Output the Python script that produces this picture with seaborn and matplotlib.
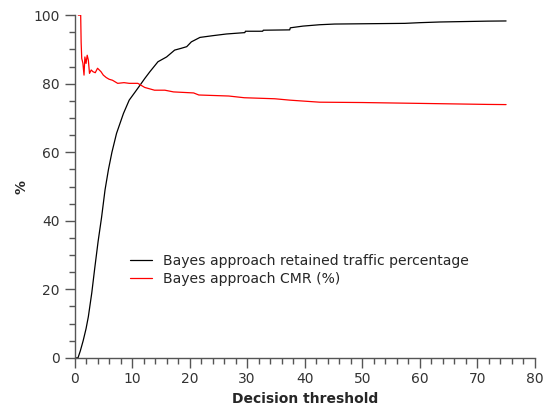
import pandas as pd
import matplotlib
matplotlib.use("Agg")
import matplotlib.pyplot as plt
import seaborn as sns
from matplotlib.ticker import MultipleLocator

# Retained traffic curve (black)
retained_x = [0, 0.6, 1.0, 1.5, 2.0, 2.4, 3.0, 3.5, 4.1, 4.7, 5.3, 5.9, 6.5, 7.3, 8.5,
              9.5, 10.5, 11.4, 12.2, 13.1, 14.5, 16.0, 17.4, 18.5, 19.5, 20.3, 21.8,
              24.0, 26.4, 29.6, 29.7, 32.7, 32.8, 37.4, 37.5, 39.7, 42.6, 45.2, 57.4,
              60.0, 63.5, 71.8, 75.0]
retained_y = [0, 0, 2, 5, 8.5, 12, 19, 26, 34, 41, 49, 55, 60, 65.5, 71.3,
              75.2, 77.5, 79.6, 81.5, 83.5, 86.4, 87.8, 89.8, 90.3, 90.8, 92.2, 93.5,
              94.0, 94.5, 94.9, 95.3, 95.3, 95.6, 95.7, 96.3, 96.8, 97.2, 97.4, 97.6,
              97.8, 98.0, 98.25, 98.3]

# CMR curve (red)
cmr_x = [0.66, 1.07, 1.15, 1.25, 1.45, 1.65, 1.8, 2.0, 2.2, 2.4, 2.6, 2.9, 3.2, 3.6,
         4.0, 4.6, 5.0, 5.5, 6.0, 6.6, 7.5, 8.6, 9.5, 11.0, 12.2, 13.9, 15.7, 17.2,
         20.7, 21.6, 26.8, 29.5, 34.8, 37.4, 39.1, 42.6, 50.0, 60.0, 71.8, 75.0]
cmr_y = [100, 100, 92, 87.4, 86, 82.5, 87.8, 85.9, 88.3, 86.9, 83, 84, 83.5, 83.2,
         84.5, 83.5, 82.5, 81.8, 81.3, 81.0, 80.1, 80.3, 80.1, 80.1, 78.9, 78.1, 78.1, 77.6,
         77.3, 76.7, 76.4, 75.9, 75.6, 75.2, 75.0, 74.6, 74.5, 74.25, 73.95, 73.9]

retained = pd.DataFrame({"x": retained_x, "y": retained_y})
cmr = pd.DataFrame({"x": cmr_x, "y": cmr_y})

sns.set_style("ticks")
plt.rcParams["font.family"] = ["DejaVu Sans"]

fig = plt.figure(figsize=(5.48, 4.09), dpi=100)
ax = fig.add_axes([0.136, 0.125, 0.840, 0.838])

sns.lineplot(data=retained, x="x", y="y", color="black", lw=0.9, ax=ax,
             label="Bayes approach retained traffic percentage", sort=False)
sns.lineplot(data=cmr, x="x", y="y", color="red", lw=0.9, ax=ax,
             label="Bayes approach CMR (%)", sort=False)

ax.set_xlim(0, 80)
ax.set_ylim(0, 100)
ax.xaxis.set_major_locator(MultipleLocator(10))
ax.xaxis.set_minor_locator(MultipleLocator(2))
ax.yaxis.set_major_locator(MultipleLocator(20))
ax.yaxis.set_minor_locator(MultipleLocator(5))
ax.tick_params(which="major", direction="out", length=7, width=1, color="#555555",
               labelsize=10, labelcolor="#333333")
ax.tick_params(which="minor", direction="out", length=4, width=1, color="#555555")

sns.despine(ax=ax)
for side in ["left", "bottom"]:
    ax.spines[side].set_color("#555555")
    ax.spines[side].set_linewidth(1)

ax.set_xlabel("Decision threshold", fontsize=10, fontweight="bold")
ax.set_ylabel("%", fontsize=10, fontweight="bold")

ax.legend(loc="center left", bbox_to_anchor=(0.092, 0.257), frameon=False,
          fontsize=10.1, handlelength=1.6, labelspacing=0.3)

fig.savefig("out.png", dpi=100)
